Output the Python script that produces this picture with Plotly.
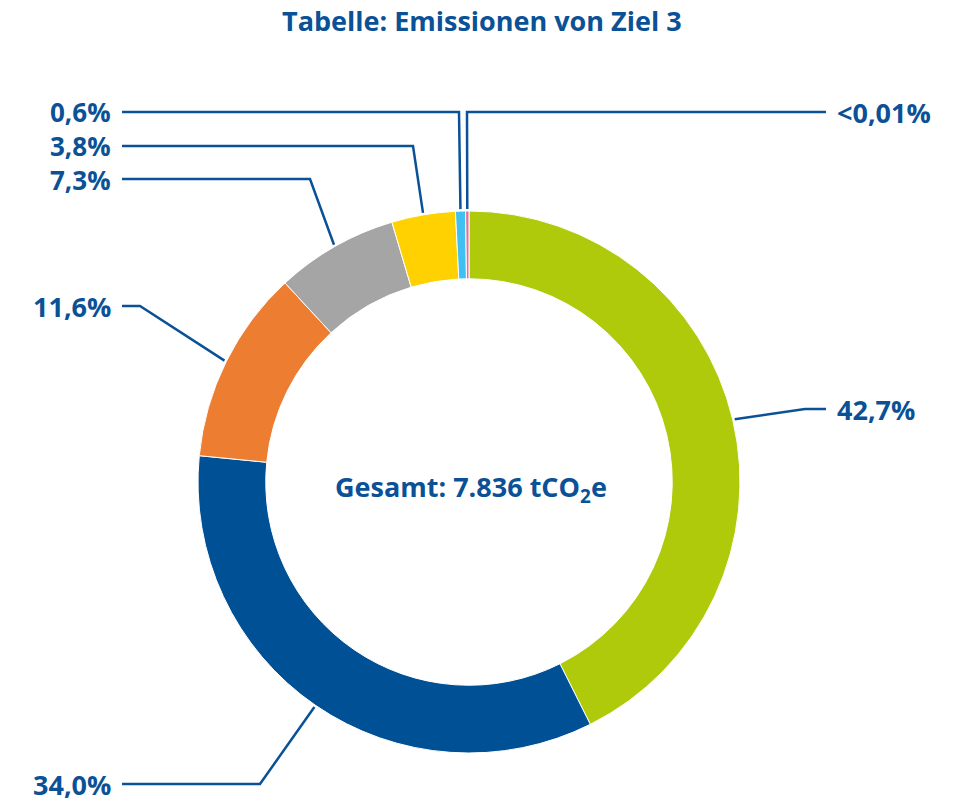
import math
import plotly.graph_objects as go

# data
categories = ["A", "B", "C", "D", "E", "F", "G"]
shares = [42.7, 34.0, 11.6, 7.3, 3.8, 0.6, 0.2]
label_text = ["42,7%", "34,0%", "11,6%", "7,3%", "3,8%", "0,6%", "<0,01%"]
colors = ["#afca0b", "#005096", "#ec7d31", "#a6a5a5", "#ffd100", "#3fc0f0", "#e5709f"]
title_text = "Tabelle: Emissionen von Ziel 3"
center_text = "Gesamt: 7.836 tCO<sub>2</sub>e"

W, H = 963, 803
CX, CY, R = 469, 482, 271
DARK = "#0b5196"
FONT = "Open Sans"

# leader layout (pixels): label row y, elbow x, side
leader_y = [409, 784, 306, 179, 146, 112, 112]
elbow_x = [805, 260, 140, 310, 413, 459, 467]
side = ["r", "l", "l", "l", "l", "l", "r"]
stacked = [5, 4, 3]  # the three small labels top-left share one text block

fig = go.Figure()

fig.add_trace(go.Pie(
    labels=categories, values=shares, sort=False, direction="clockwise",
    rotation=0, hole=0.75, textinfo="none", hoverinfo="skip",
    marker=dict(colors=colors, line=dict(color="white", width=1)),
    domain=dict(x=[(CX - R) / W, (CX + R) / W], y=[1 - (CY + R) / H, 1 - (CY - R) / H]),
    showlegend=False,
))

total = sum(shares)
cum = 0
for i, v in enumerate(shares):
    mid = (cum + v / 2) / total * 2 * math.pi
    cum += v
    sx = CX + (R + 2) * math.sin(mid)
    sy = CY - (R + 2) * math.cos(mid)
    ex = 122 if side[i] == "l" else 826
    fig.add_trace(go.Scatter(
        x=[sx, elbow_x[i], ex], y=[sy, leader_y[i], leader_y[i]],
        mode="lines", line=dict(color=DARK, width=2.5), hoverinfo="skip", showlegend=False,
    ))
    if i in stacked:
        continue
    fig.add_annotation(
        x=ex + (-9 if side[i] == "l" else 9), y=leader_y[i], xref="x", yref="y",
        text="<b>%s</b>" % label_text[i], showarrow=False,
        xanchor="right" if side[i] == "l" else "left", yanchor="middle",
        font=dict(family=FONT, size=27, color=DARK),
    )

fig.add_annotation(
    x=113, y=leader_y[stacked[1]], xref="x", yref="y",
    text="<br>".join("<b>%s</b>" % label_text[i] for i in stacked), showarrow=False,
    xanchor="right", yanchor="middle", align="right",
    font=dict(family=FONT, size=26, color=DARK),
)

fig.add_annotation(
    x=CX + 2, y=CY + 6, xref="x", yref="y", text="<b>%s</b>" % center_text, showarrow=False,
    xanchor="center", yanchor="middle", font=dict(family=FONT, size=27, color=DARK),
)

fig.add_annotation(
    x=482, y=20, xref="x", yref="y", text="<b>%s</b>" % title_text, showarrow=False,
    xanchor="center", yanchor="middle", font=dict(family=FONT, size=27, color=DARK),
)

fig.update_layout(
    width=W, height=H, margin=dict(l=0, r=0, t=0, b=0),
    paper_bgcolor="white", plot_bgcolor="white",
    xaxis=dict(range=[0, W], visible=False, fixedrange=True),
    yaxis=dict(range=[H, 0], visible=False, fixedrange=True),
)

# drop the browser's default 8px body margin so the figure fills the window exactly
fig.write_html("out.html", config={"displayModeBar": False},
               post_script="document.body.style.margin='0';document.body.style.overflow='hidden';")
